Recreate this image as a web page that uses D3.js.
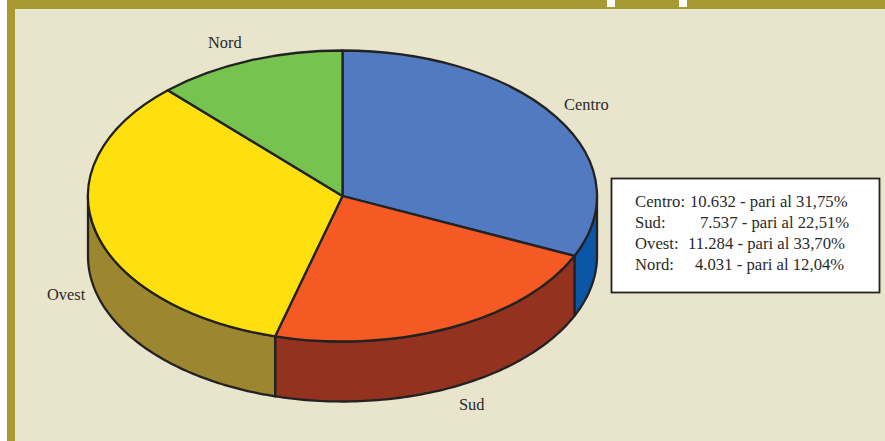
<!DOCTYPE html>
<html>
<head>
<meta charset="utf-8">
<script src="https://cdn.jsdelivr.net/npm/d3@7"></script>
<style>
  html, body { margin: 0; padding: 0; background: #fff; overflow: hidden; }
  text { font-family: "Liberation Serif", serif; fill: #2a2a2a; }
</style>
</head>
<body>
<div id="chart"></div>
<script>
const categories = ["Centro", "Sud", "Ovest", "Nord"];
const values = [10632, 7537, 11284, 4031];
const valueLabels = ["10.632", "7.537", "11.284", "4.031"];
const percentLabels = ["31,75%", "22,51%", "33,70%", "12,04%"];
const topColors = ["#527ac0", "#f55a24", "#ffe00f", "#77c350"];
const sideColors = ["#0c57a5", "#93331f", "#9c8630", "none"];

const width = 885, height = 441;
const cx = 342.5, cy = 196, rx = 254.5, ry = 145.5, depth = 60;
const ink = "#222";

const svg = d3.select("#chart")
  .append("svg")
  .attr("width", width)
  .attr("height", height)
  .style("display", "block");

// page frame
svg.append("rect").attr("width", width).attr("height", height).attr("fill", "#fff");
svg.append("rect").attr("x", 7).attr("width", width - 7).attr("height", height).attr("fill", "#a89a32");
svg.append("rect").attr("x", 15).attr("y", 9).attr("width", width - 15).attr("height", height - 9).attr("fill", "#e9e5cd");

// stems of the cut-off title letters
svg.append("g")
  .selectAll("rect")
  .data([607, 679])
  .join("rect")
  .attr("x", d => d)
  .attr("y", 0)
  .attr("width", 8)
  .attr("height", 7)
  .attr("fill", "#fff");

const slices = d3.pie().sort(null).value(d => d)(values);

// ellipse position for an angle measured clockwise from the top
const px = a => cx + rx * Math.sin(a);
const py = a => cy - ry * Math.cos(a);

// side wall of the cylinder
function wallPath(a0, a1) {
  const n = 80;
  const angles = d3.range(n + 1).map(i => a0 + (a1 - a0) * i / n);
  const upper = angles.map(a => [px(a), py(a)]);
  const lower = angles.slice().reverse().map(a => [px(a), py(a) + depth]);
  return d3.line()(upper.concat(lower)) + "Z";
}

const walls = svg.append("g");
slices.forEach((s, i) => {
  const a0 = Math.max(s.startAngle, Math.PI / 2);
  const a1 = Math.min(s.endAngle, Math.PI * 1.5);
  if (a1 <= a0) return;
  walls.append("path")
    .attr("d", wallPath(a0, a1))
    .attr("fill", sideColors[i])
    .attr("stroke", ink)
    .attr("stroke-width", 2.3)
    .attr("stroke-linejoin", "round");
});

// top face
const arc = d3.arc().innerRadius(0).outerRadius(rx);
svg.append("g")
  .attr("transform", `translate(${cx},${cy}) scale(1,${ry / rx})`)
  .selectAll("path")
  .data(slices)
  .join("path")
  .attr("d", arc)
  .attr("fill", (d, i) => topColors[i])
  .attr("stroke", ink)
  .attr("stroke-width", 2.3)
  .attr("stroke-linejoin", "round")
  .attr("vector-effect", "non-scaling-stroke");

// pie labels
const labelPos = [[564, 110], [459, 410], [47, 300], [208, 48]];
svg.append("g")
  .selectAll("text")
  .data(categories)
  .join("text")
  .attr("x", (d, i) => labelPos[i][0])
  .attr("y", (d, i) => labelPos[i][1])
  .attr("font-size", 16.4)
  .text(d => d);

// value box
svg.append("rect")
  .attr("x", 611.5).attr("y", 178.5)
  .attr("width", 268).attr("height", 114)
  .attr("fill", "#fff")
  .attr("stroke", ink)
  .attr("stroke-width", 1.8);

const nameX = 635, rowY = [207, 228, 249, 270];
const valueX = [690, 700, 688, 695];
const box = svg.append("g").attr("font-size", 16.7);
categories.forEach((c, i) => {
  box.append("text").attr("x", nameX).attr("y", rowY[i]).text(c + ":");
  box.append("text").attr("x", valueX[i]).attr("y", rowY[i])
    .text(valueLabels[i] + " - pari al " + percentLabels[i]);
});
</script>
</body>
</html>
